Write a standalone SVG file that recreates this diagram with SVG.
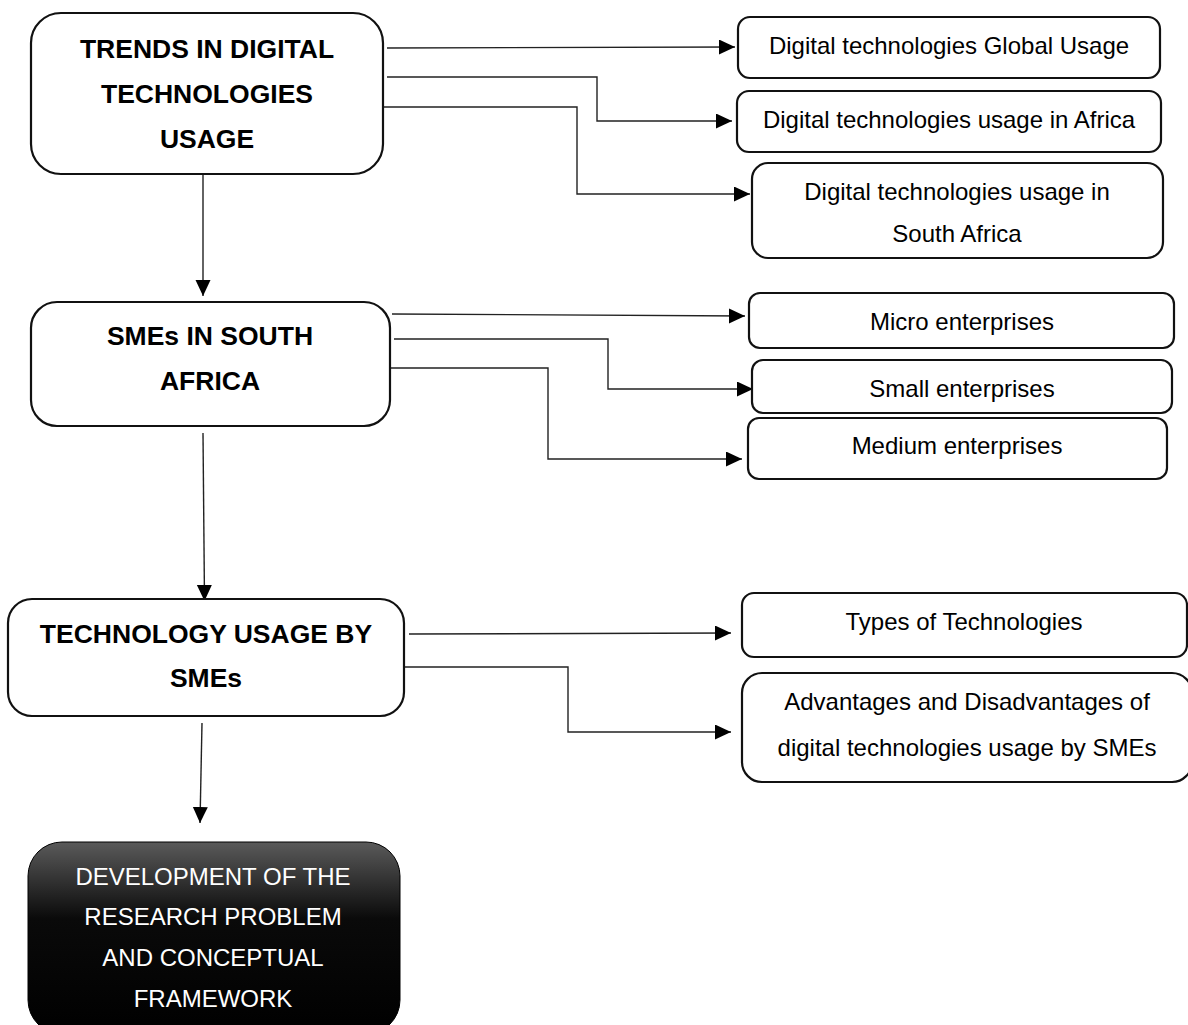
<svg xmlns="http://www.w3.org/2000/svg" width="1188" height="1025" viewBox="0 0 1188 1025">
  <style>
    .box { fill: #ffffff; stroke: #111111; stroke-width: 2.2; }
    .title { font-family: "Liberation Sans", Arial, sans-serif; font-weight: bold; font-size: 26.5px; fill: #000000; text-anchor: middle; }
    .item { font-family: "Liberation Sans", Arial, sans-serif; font-size: 24px; fill: #000000; text-anchor: middle; }
    .final { font-family: "Liberation Sans", Arial, sans-serif; font-size: 24px; fill: #ffffff; text-anchor: middle; }
    .link { fill: none; stroke: #222222; stroke-width: 1.4; marker-end: url(#arrow); }
  </style>
  <defs>
    <marker id="arrow" markerUnits="userSpaceOnUse" markerWidth="17" markerHeight="16" refX="16" refY="7.5" orient="auto">
      <path d="M0,0 L16,7.5 L0,15 Z" fill="#000000"/>
    </marker>
    <linearGradient id="darkFill" x1="0" y1="0" x2="0" y2="1">
      <stop offset="0" stop-color="#5a5a5a"/>
      <stop offset="0.4" stop-color="#0a0a0a"/>
      <stop offset="1" stop-color="#000000"/>
    </linearGradient>
  </defs>

  <rect width="1188" height="1025" fill="#ffffff"/>

  <g id="connectors">
    <!-- from TRENDS box -->
    <path class="link" d="M387,48 L735,47"/>
    <path class="link" d="M387,77 L597,77 L597,121 L732,121"/>
    <path class="link" d="M384,107 L577,107 L577,194 L750,194"/>
    <!-- from SMEs box -->
    <path class="link" d="M392,314 L745,316"/>
    <path class="link" d="M394,339 L608,339 L608,389 L753,389"/>
    <path class="link" d="M387,368 L548,368 L548,459 L742,459"/>
    <!-- from TECHNOLOGY USAGE box -->
    <path class="link" d="M409,634 L731,633"/>
    <path class="link" d="M404,667 L568,667 L568,732 L731,732"/>
    <!-- main vertical flow -->
    <path class="link" d="M203,174 L203,296"/>
    <path class="link" d="M203,433 L204.5,601"/>
    <path class="link" d="M202,723 L200,823"/>
  </g>

  <g id="trends">
    <rect class="box" x="31" y="13" width="352" height="161" rx="30" ry="30"/>
    <text class="title" x="207" y="58">TRENDS IN DIGITAL</text>
    <text class="title" x="207" y="103">TECHNOLOGIES</text>
    <text class="title" x="207" y="148">USAGE</text>
  </g>

  <g id="global-usage">
    <rect class="box" x="738" y="17" width="422" height="61" rx="12" ry="12"/>
    <text class="item" x="949" y="54">Digital technologies Global Usage</text>
  </g>

  <g id="africa-usage">
    <rect class="box" x="737" y="91" width="424" height="61" rx="12" ry="12"/>
    <text class="item" x="949" y="128">Digital technologies usage in Africa</text>
  </g>

  <g id="sa-usage">
    <rect class="box" x="752" y="163" width="411" height="95" rx="16" ry="16"/>
    <text class="item" x="957" y="200">Digital technologies usage in</text>
    <text class="item" x="957" y="242">South Africa</text>
  </g>

  <g id="smes-sa">
    <rect class="box" x="31" y="302" width="359" height="124" rx="26" ry="26"/>
    <text class="title" x="210" y="345">SMEs IN SOUTH</text>
    <text class="title" x="210" y="390">AFRICA</text>
  </g>

  <g id="micro">
    <rect class="box" x="749" y="293" width="425" height="55" rx="11" ry="11"/>
    <text class="item" x="962" y="330">Micro enterprises</text>
  </g>

  <g id="small">
    <rect class="box" x="752" y="360" width="420" height="53" rx="11" ry="11"/>
    <text class="item" x="962" y="397">Small enterprises</text>
  </g>

  <g id="medium">
    <rect class="box" x="748" y="418" width="419" height="61" rx="11" ry="11"/>
    <text class="item" x="957" y="454">Medium enterprises</text>
  </g>

  <g id="tech-usage">
    <rect class="box" x="8" y="599" width="396" height="117" rx="24" ry="24"/>
    <text class="title" x="206" y="643">TECHNOLOGY USAGE BY</text>
    <text class="title" x="206" y="687">SMEs</text>
  </g>

  <g id="types">
    <rect class="box" x="742" y="593" width="445" height="64" rx="12" ry="12"/>
    <text class="item" x="964" y="630">Types of Technologies</text>
  </g>

  <g id="pros-cons">
    <rect class="box" x="742" y="673" width="450" height="109" rx="20" ry="20"/>
    <text class="item" x="967" y="710">Advantages and Disadvantages of</text>
    <text class="item" x="967" y="756">digital technologies usage by SMEs</text>
  </g>

  <g id="research-problem">
    <rect x="28" y="842" width="372" height="192" rx="34" ry="34" fill="url(#darkFill)" stroke="#000000" stroke-width="1"/>
    <text class="final" x="213" y="885">DEVELOPMENT OF THE</text>
    <text class="final" x="213" y="925">RESEARCH PROBLEM</text>
    <text class="final" x="213" y="966">AND CONCEPTUAL</text>
    <text class="final" x="213" y="1007">FRAMEWORK</text>
  </g>
</svg>
